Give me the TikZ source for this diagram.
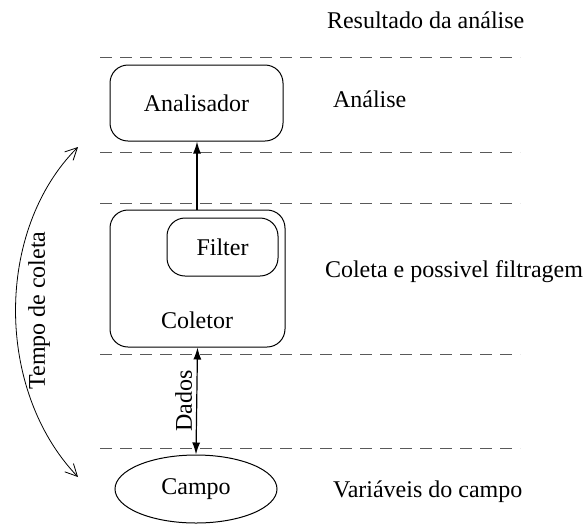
\documentclass[tikz,border=0pt]{standalone}
\usepackage{fontspec}
\setmainfont{Liberation Serif}
\usetikzlibrary{arrows.meta,shapes.geometric}
\begin{document}
\begin{tikzpicture}[x=0.5pt,y=-0.5pt,
  box/.style={draw,rounded corners=9pt,line width=0.5pt},
  sep/.style={dashed,dash pattern=on 6pt off 4pt,line width=0.4pt,gray!70!black},
  lbl/.style={anchor=west,font=\fontsize{12}{14}\selectfont},
  txt/.style={font=\fontsize{12}{14}\selectfont},
  conn/.style={line width=0.6pt,-{Latex[length=6pt,width=4pt]}}]
\useasboundingbox (0,0) rectangle (584,526);
% separators
\draw[sep] (100,57) -- (520,57);
\draw[sep] (100,152) -- (520,152);
\draw[sep] (100,203) -- (520,203);
\draw[sep] (100,354) -- (520,354);
\draw[sep] (100,448) -- (520,448);
% boxes
\node[box,minimum width=86.5pt,minimum height=38pt,txt] (ana) at (196.5,103) {Analisador};
\node[box,minimum width=87.5pt,minimum height=68.5pt] (col) at (197.5,278.5) {};
\node[txt] (coltxt) at (197,320) {Coletor};
\node[box,minimum width=55.5pt,minimum height=29pt,txt] (fil) at (222.5,247) {Filter};
\node[draw,ellipse,minimum width=81pt,minimum height=34pt,inner sep=0pt,txt,line width=0.5pt] (campo) at (196,489) {Campo};
% connectors
\draw[conn] (col.north) ++(-0.5,0) coordinate (cs) -- (cs |- ana.south);
\draw[line width=0.6pt,{Latex[length=6pt,width=4pt]}-{Latex[length=6pt,width=4pt]}] (col.south) -- node[midway,rotate=90,anchor=south,txt,inner sep=2pt] (dados) {Dados} (campo.north);
% curved arrow
\coordinate (ct) at (78,147);
\coordinate (cb) at (78,477);
\draw[line width=0.4pt,{Straight Barb[length=6pt,width=6pt]}-{Straight Barb[length=6pt,width=6pt]}] (ct) .. controls (-5,230) and (-5,390) .. node[midway,rotate=90,anchor=north,txt,inner sep=6pt] (tempo) {Tempo de coleta} (cb);
% right labels
\node[lbl] (res) at (320,20) {Resultado da análise};
\node[lbl] (anl) at (326,99) {Análise};
\node[lbl] (coleta) at (318,272) {Coleta e possivel filtragem};
\node[lbl] (var) at (326,492) {Variáveis do campo};
\end{tikzpicture}
\end{document}
